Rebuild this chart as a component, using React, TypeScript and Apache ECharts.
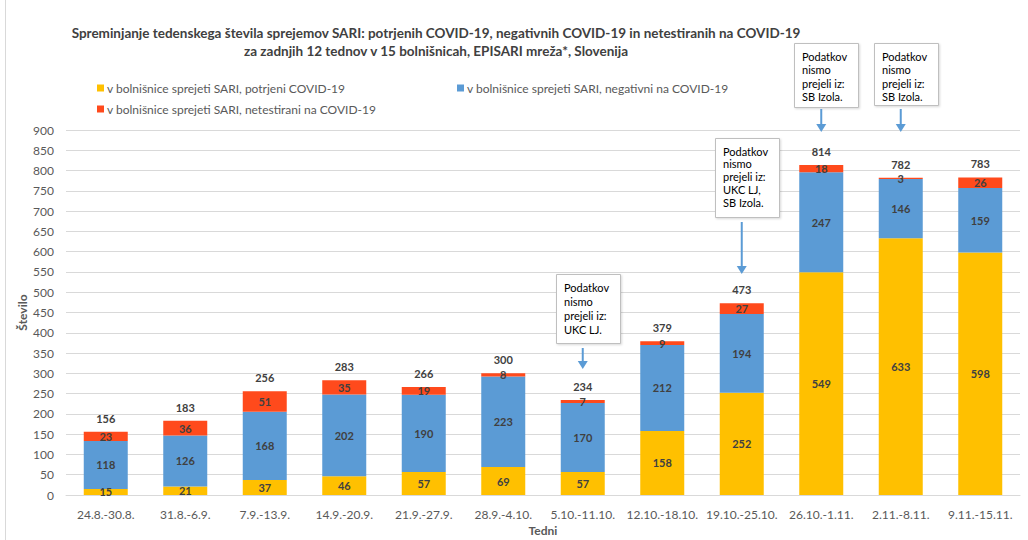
import React, { useEffect, useRef } from "react";
import * as echarts from "echarts";

const categories = ["24.8.-30.8.", "31.8.-6.9.", "7.9.-13.9.", "14.9.-20.9.", "21.9.-27.9.", "28.9.-4.10.", "5.10.-11.10.", "12.10.-18.10.", "19.10.-25.10.", "26.10.-1.11.", "2.11.-8.11.", "9.11.-15.11."];
const confirmed = [15, 21, 37, 46, 57, 69, 57, 158, 252, 549, 633, 598];
const negative = [118, 126, 168, 202, 190, 223, 170, 212, 194, 247, 146, 159];
const untested = [23, 36, 51, 35, 19, 8, 7, 9, 27, 18, 3, 26];
const totals = [156, 183, 256, 283, 266, 300, 234, 379, 473, 814, 782, 783];

const seriesNames = [
  "v bolnišnice sprejeti SARI, potrjeni COVID-19",
  "v bolnišnice sprejeti SARI, negativni na COVID-19",
  "v bolnišnice sprejeti SARI, netestirani na COVID-19",
];
const colors = ["#FFC000", "#5B9BD5", "#FF4A1C"];

const notes = [
  { cat: 6, text: "Podatkov\nnismo\nprejeli iz:\nUKC LJ.", top: 274, h: 69, lh: 14, arrowTop: 348, arrowBot: 369 },
  { cat: 8, text: "Podatkov\nnismo\nprejeli iz:\nUKC LJ,\nSB Izola.", top: 138, h: 79, lh: 12.8, arrowTop: 222, arrowBot: 274 },
  { cat: 9, text: "Podatkov\nnismo\nprejeli iz:\nSB Izola.", top: 43, h: 64, lh: 13.5, arrowTop: 109, arrowBot: 132 },
  { cat: 10, text: "Podatkov\nnismo\nprejeli iz:\nSB Izola.", top: 43, h: 62, lh: 13.5, arrowTop: 109, arrowBot: 132 },
];

const FONT = "Lato";

export default function App() {
  const ref = useRef<HTMLDivElement>(null);
  useEffect(() => {
    if (!ref.current) return;
    const chart = echarts.init(ref.current, null, { renderer: "svg" });
    const segLabel = {
      show: true,
      position: "inside",
      color: "#404040",
      fontWeight: "bold",
      fontSize: 11,
      fontFamily: FONT,
    };
    const barSeries = [confirmed, negative, untested].map((d, i) => ({
      name: seriesNames[i],
      type: "bar",
      stack: "a",
      data: d,
      barWidth: 44,
      itemStyle: { color: colors[i] },
      label: segLabel,
    }));
    chart.setOption({
      animation: false,
      textStyle: { fontFamily: FONT },
      title: {
        text: "Spreminjanje tedenskega števila sprejemov SARI: potrjenih COVID-19, negativnih COVID-19 in netestiranih na COVID-19\nza zadnjih 12 tednov v 15 bolnišnicah, EPISARI mreža*, Slovenija",
        left: 431,
        top: 19,
        textAlign: "center",
        textStyle: { fontSize: 13.5, fontWeight: "bold", color: "#404040", lineHeight: 18, fontFamily: FONT },
      },
      legend: [
        { data: [seriesNames[0]], left: 92, top: 77 },
        { data: [seriesNames[1]], left: 452, top: 77 },
        { data: [seriesNames[2]], left: 92, top: 98 },
      ].map((l) => ({
        ...l,
        icon: "rect",
        itemWidth: 7,
        itemHeight: 7,
        itemGap: 3,
        selectedMode: false,
        textStyle: { fontSize: 12, color: "#595959", fontFamily: FONT, padding: [0, 0, 0, -2] },
      })),
      grid: { left: 66, right: 8, top: 130, bottom: 45, outerBoundsMode: "none" },
      xAxis: {
        type: "category",
        data: categories,
        name: "Tedni",
        nameLocation: "middle",
        nameGap: 28,
        nameTextStyle: { fontWeight: "bold", fontSize: 12, color: "#595959", fontFamily: FONT },
        axisLine: { lineStyle: { color: "#D9D9D9" } },
        axisTick: { show: false },
        axisLabel: { color: "#595959", fontSize: 12, margin: 13, interval: 0, fontFamily: FONT },
      },
      yAxis: {
        type: "value",
        min: 0,
        max: 900,
        interval: 50,
        name: "Število",
        nameLocation: "middle",
        nameGap: 38,
        nameMoveOverlap: false,
        nameTextStyle: { fontWeight: "bold", fontSize: 12, color: "#595959", fontFamily: FONT },
        axisLabel: { color: "#595959", fontSize: 12, margin: 12, fontFamily: FONT },
        splitLine: { lineStyle: { color: "#D9D9D9" } },
      },
      series: [
        ...barSeries,
        {
          name: "total",
          type: "custom",
          data: totals.map((v, i) => [i, v]),
          z: 5,
          renderItem: (params: any, api: any) => {
            const p = api.coord([api.value(0), api.value(1)]);
            return {
              type: "text",
              x: p[0],
              y: p[1] - 8,
              style: {
                text: String(api.value(1)),
                textAlign: "center",
                textVerticalAlign: "bottom",
                fill: "#404040",
                font: `bold 11px ${FONT}`,
              },
            };
          },
        },
      ],
    });

    const graphics: any[] = [
      { type: "line", shape: { x1: 5.5, y1: 0, x2: 5.5, y2: 540 }, style: { stroke: "#D9D9D9", lineWidth: 1 } },
    ];
    notes.forEach((n) => {
      const [cx] = chart.convertToPixel({ xAxisIndex: 0, yAxisIndex: 0 }, [n.cat, 0]) as number[];
      const w = 64;
      const bx = Math.round(cx - 27);
      graphics.push({
        type: "rect",
        shape: { x: bx + 0.5, y: n.top + 0.5, width: w, height: n.h },
        style: { fill: "#fff", stroke: "#BFBFBF", lineWidth: 1, shadowColor: "rgba(0,0,0,0.15)", shadowBlur: 2, shadowOffsetX: 1, shadowOffsetY: 1 },
        z: 10,
      });
      graphics.push({
        type: "text",
        x: bx + 8,
        y: n.top + 13 - n.lh / 2,
        style: { text: n.text, fill: "#000", fontSize: 11, lineHeight: n.lh, fontFamily: FONT },
        z: 11,
      });
      graphics.push({
        type: "line",
        shape: { x1: cx, y1: n.arrowTop, x2: cx, y2: n.arrowBot - 6 },
        style: { stroke: "#5B9BD5", lineWidth: 2 },
        z: 10,
      });
      graphics.push({
        type: "polygon",
        shape: { points: [[cx - 5, n.arrowBot - 8], [cx + 5, n.arrowBot - 8], [cx, n.arrowBot]] },
        style: { fill: "#5B9BD5" },
        z: 10,
      });
    });
    chart.setOption({ graphic: graphics });
    return () => chart.dispose();
  }, []);
  return <div ref={ref} style={{ position: "fixed", left: 0, top: 0, width: 1028, height: 540, background: "#fff" }} />;
}
